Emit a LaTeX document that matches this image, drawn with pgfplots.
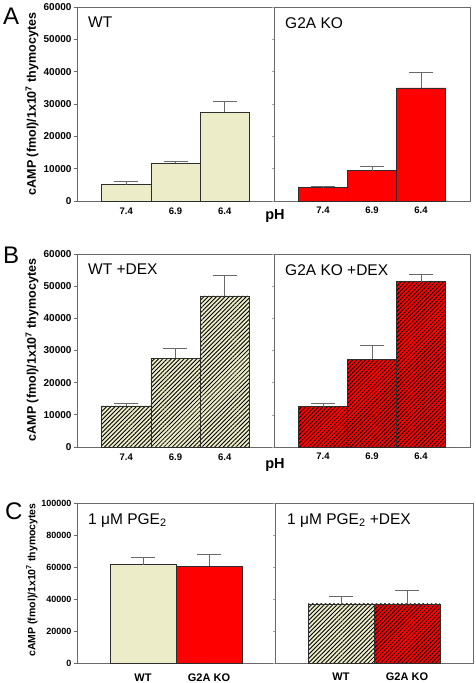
\documentclass[border=0pt]{standalone}
\usepackage{pgfplots}
\pgfplotsset{compat=1.18}
\usepackage{pgfplotstable}
\usepackage{fontspec}
\setmainfont{Liberation Sans}
\usetikzlibrary{patterns.meta}
\definecolor{wtcol}{RGB}{236,236,200}
\definecolor{kocol}{RGB}{255,0,0}
\definecolor{axgray}{RGB}{105,105,105}
\definecolor{barline}{RGB}{45,45,45}

\pgfplotstableread{
x y e
1 5100 900
2 11600 500
3 27400 3500
}\Awt
\pgfplotstableread{
x y e
1 4200 200
2 9400 1400
3 35000 4900
}\Ako
\pgfplotstableread{
x y e
1 12800 900
2 27600 3200
3 47000 6500
}\Bwt
\pgfplotstableread{
x y e
1 12500 1000
2 27300 4400
3 51400 2400
}\Bko
\pgfplotstableread{
x y e
1 61500 4200
}\Cwt
\pgfplotstableread{
x y e
2 60400 7700
}\Cko
\pgfplotstableread{
x y e
1 36900 5000
}\Cwtd
\pgfplotstableread{
x y e
2 36900 8500
}\Ckod

\pgfplotsset{
  base/.style={scale only axis, ymin=0, clip=false,
    axis line style={draw=axgray, line width=0.7pt},
    tick align=outside, ytick pos=left, xtick pos=bottom,
    x tick style={draw=none},
    y tick style={draw=axgray, line width=0.7pt},
    major tick length=3pt,
    /pgf/number format/fixed,
    /pgf/number format/assume math mode=true,
    /pgf/number format/1000 sep={},
    scaled y ticks=false,
    yticklabel style={font=\bfseries\fontsize{10}{10}\selectfont, xshift=1pt},
    xticklabel style={font=\bfseries\fontsize{9.5}{10}\selectfont}},
  pha/.style={base, xmin=0, xmax=4, ymax=60000, ytick={0,10000,...,60000},
    xtick={1,2,3}, xticklabels={7.4,6.9,6.4}},
  phr/.style={yticklabels={}, y tick style={draw=axgray!60, line width=0.5pt}, major tick length=2pt},
  pc/.style={base, xmin=0, xmax=3, ymax=100000, ytick={0,20000,...,100000},
    xtick={1,2}, xticklabels={WT,G2A KO},
    yticklabel style={font=\bfseries\fontsize{9}{9}\selectfont},
    xticklabel style={font=\bfseries\fontsize{11}{12}\selectfont, yshift=-4pt}},
  bars/.style={ybar, bar width=1, bar shift=0, draw=barline, line width=0.6pt},
  hatch/.style={pattern={Lines[angle=45,distance=3pt,line width=0.85pt]}, pattern color=black},
  errs/.style={draw=none, mark=none, forget plot,
    error bars/.cd, y dir=plus, y explicit,
    error bar style={draw=axgray, line width=0.8pt},
    error mark options={draw=axgray, line width=0.8pt, mark size=12pt, rotate=90}},
}

\begin{document}
\begin{tikzpicture}
\useasboundingbox (0,0) rectangle (475pt,-683pt);

% ---------- Panel A ----------
\begin{axis}[pha, at={(77pt,-7pt)}, anchor=north west, width=197pt, height=194pt]
\addplot[bars, fill=wtcol] table[x=x,y=y] {\Awt};
\addplot[errs] table[x=x,y=y,y error=e] {\Awt};
\end{axis}
\begin{axis}[pha, phr, at={(274pt,-7pt)}, anchor=north west, width=196pt, height=194pt]
\addplot[bars, fill=kocol] table[x=x,y=y] {\Ako};
\addplot[errs] table[x=x,y=y,y error=e] {\Ako};
\end{axis}

% ---------- Panel B ----------
\begin{axis}[pha, at={(77pt,-254pt)}, anchor=north west, width=197pt, height=193pt]
\addplot[bars, fill=wtcol] table[x=x,y=y] {\Bwt};
\addplot[bars, hatch] table[x=x,y=y] {\Bwt};
\addplot[errs] table[x=x,y=y,y error=e] {\Bwt};
\end{axis}
\begin{axis}[pha, phr, at={(274pt,-254pt)}, anchor=north west, width=196pt, height=193pt]
\addplot[bars, fill=kocol] table[x=x,y=y] {\Bko};
\addplot[bars, hatch] table[x=x,y=y] {\Bko};
\addplot[errs] table[x=x,y=y,y error=e] {\Bko};
\end{axis}

% ---------- Panel C ----------
\begin{axis}[pc, at={(77pt,-503pt)}, anchor=north west, width=198pt, height=160pt]
\addplot[bars, fill=wtcol] table[x=x,y=y] {\Cwt};
\addplot[bars, fill=kocol] table[x=x,y=y] {\Cko};
\addplot[errs] table[x=x,y=y,y error=e] {\Cwt};
\addplot[errs] table[x=x,y=y,y error=e] {\Cko};
\end{axis}
\begin{axis}[pc, phr, at={(275pt,-503pt)}, anchor=north west, width=198pt, height=160pt]
\addplot[bars, fill=wtcol] table[x=x,y=y] {\Cwtd};
\addplot[bars, hatch] table[x=x,y=y] {\Cwtd};
\addplot[bars, fill=kocol] table[x=x,y=y] {\Ckod};
\addplot[bars, hatch] table[x=x,y=y] {\Ckod};
\addplot[errs] table[x=x,y=y,y error=e] {\Cwtd};
\addplot[errs] table[x=x,y=y,y error=e] {\Ckod};
\end{axis}

% ---------- Texts ----------
\tikzset{lett/.style={anchor=north west, inner sep=0pt, font=\fontsize{24}{24}\selectfont},
  ttl/.style={anchor=north west, inner sep=0pt, font=\fontsize{15.5}{16}\selectfont},
  ylab/.style={rotate=90, inner sep=0pt, font=\bfseries\fontsize{12.5}{13}\selectfont},
  phl/.style={anchor=base, inner sep=0pt, font=\bfseries\fontsize{14.5}{15}\selectfont}}
\node[lett] at (3pt,-8pt) {A};
\node[lett] at (3pt,-247pt) {B};
\node[lett] at (5pt,-503pt) {C};
\node[ttl] at (88pt,-17pt) {WT};
\node[ttl] at (285pt,-17pt) {G2A KO};
\node[ttl] at (88pt,-264pt) {WT +DEX};
\node[ttl] at (285pt,-264pt) {G2A KO +DEX};
\node[ttl] at (88pt,-513pt) {1 μM PGE\textsubscript{2}};
\node[ttl] at (287pt,-513pt) {1 μM PGE\textsubscript{2} +DEX};
\node[ylab] at (32pt,-104pt) {cAMP (fmol)/1x10\textsuperscript{7} thymocytes};
\node[ylab] at (32pt,-350pt) {cAMP (fmol)/1x10\textsuperscript{7} thymocytes};
\node[ylab, font=\bfseries\fontsize{10.5}{11}\selectfont] at (32pt,-580pt) {cAMP (fmol)/1x10\textsuperscript{7} thymocytes};
\node[phl] at (275pt,-219.5pt) {pH};
\node[phl] at (275pt,-468pt) {pH};
\end{tikzpicture}
\end{document}
